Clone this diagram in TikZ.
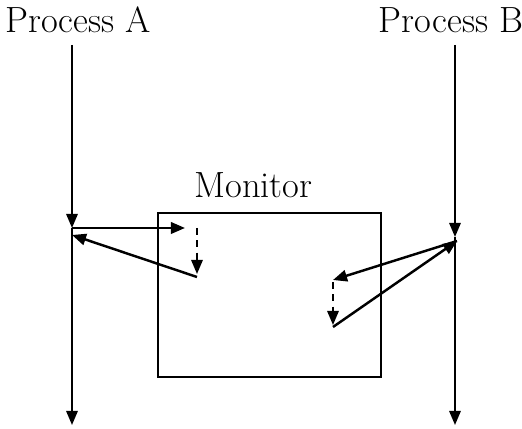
\documentclass[tikz,border=0pt]{standalone}
\usepackage{tikz}
\usetikzlibrary{arrows.meta}

\begin{document}
\begin{tikzpicture}[
  >={Triangle[length=8pt,width=6.5pt]}, font=\huge,
  proc/.style={->, line width=1pt},
  call/.style={->, line width=1.4pt},
  wait/.style={->, line width=1pt, dash pattern=on 4pt off 3pt},
  monbox/.style={draw, line width=0.9pt, minimum width=4.46cm, minimum height=3.28cm, inner sep=0pt},
]
  \useasboundingbox (0,0) rectangle (10.44,8.58);
  \node (PA) at (1.56,8.18) {Process A};
  \node (PB) at (9.02,8.18) {Process B};
  \node[monbox] (mon) at (5.39,2.68) {};
  \node (monlab) at (5.07,4.88) {Monitor};
  % process A
  \coordinate (Atop) at (1.44,7.68);
  \coordinate (Ain) at (1.44,4.02);
  \coordinate (Aback) at (1.44,3.88);
  \coordinate (Aend) at (1.44,0.08);
  \coordinate (Acall) at (3.70,4.02);
  \coordinate (Await) at (3.94,4.02);
  \coordinate (Aret) at (3.94,3.10);
  \coordinate (Aout) at (3.94,3.04);
  % process B
  \coordinate (Btop) at (9.10,7.68);
  \coordinate (Bin) at (9.10,3.84);
  \coordinate (Bjoin) at (9.14,3.76);
  \coordinate (Bend) at (9.10,0.08);
  \coordinate (Bcall) at (6.66,2.98);
  \coordinate (Bwait) at (6.66,2.94);
  \coordinate (Bret) at (6.66,2.08);
  \coordinate (Bout) at (6.66,2.04);
  \draw[proc] (Atop) -- (Ain);
  \draw[proc] (Ain) -- (Aend);
  \draw[call] (Ain) -- (Acall);
  \draw[wait] (Await) -- (Aret);
  \draw[call] (Aout) -- (Aback);
  \draw[proc] (Btop) -- (Bin);
  \draw[proc] (Bin) -- (Bend);
  \draw[call] (Bjoin) -- (Bcall);
  \draw[wait] (Bwait) -- (Bret);
  \draw[call] (Bout) -- (Bjoin);
\end{tikzpicture}
\end{document}
